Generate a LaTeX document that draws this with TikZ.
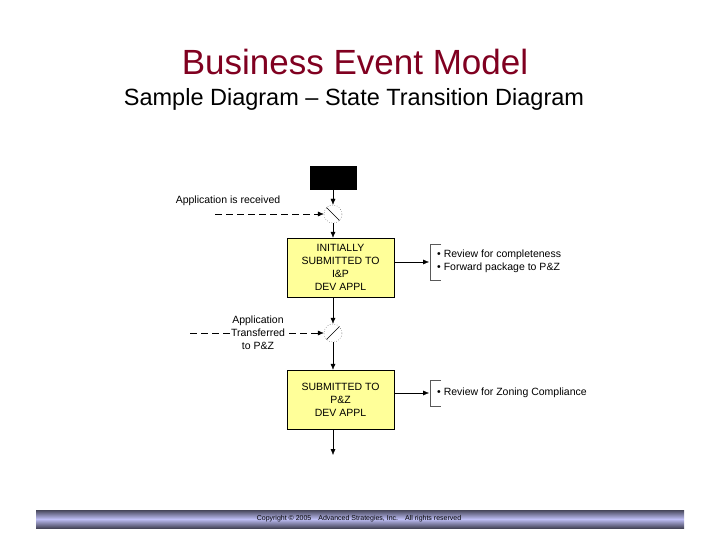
\documentclass[tikz,border=0pt]{standalone}
\usepackage{fontspec}
\setmainfont{Liberation Sans}
\usetikzlibrary{arrows.meta}
\definecolor{titlered}{RGB}{128,0,32}
\definecolor{stateyellow}{RGB}{255,255,153}
\definecolor{barblue}{RGB}{190,190,245}
\definecolor{bardark}{RGB}{70,70,90}
\tikzset{
  state/.style={draw, fill=stateyellow, minimum width=107pt, minimum height=59pt,
    align=center, font=\fontsize{10.5}{13}\selectfont, inner sep=0pt},
  event/.style={draw, dotted, circle, minimum size=18pt, inner sep=0pt},
  flow/.style={-{Latex[length=6pt,width=5pt]}},
  trig/.style={dashed, dash pattern=on 7pt off 4pt, -{Latex[length=6pt,width=5pt]}},
  lbl/.style={font=\fontsize{10.5}{13}\selectfont, align=center, inner sep=0pt},
}
\begin{document}
\begin{tikzpicture}[x=1pt,y=-1pt]
  \useasboundingbox (0,0) rectangle (720,540);
  \node[text=titlered, font=\fontsize{35}{38}\selectfont] (title) at (355,62) {Business Event Model};
  \node[font=\fontsize{23.5}{26}\selectfont] (sub) at (354,99) {Sample Diagram -- State Transition Diagram};

  \node[fill=black, minimum width=47pt, minimum height=24pt, inner sep=0pt] (start) at (333,178) {};
  \node[event] (ev1) at (333,214) {};
  \draw (ev1.north west) -- (ev1.south east);
  \node[state] (s1) at (340.5,267.5) {INITIALLY\\SUBMITTED TO\\I\&P\\DEV APPL};
  \node[event] (ev2) at (333,333) {};
  \draw (ev2.north east) -- (ev2.south west);
  \node[state] (s2) at (340.5,399.5) {SUBMITTED TO\\P\&Z\\DEV APPL};
  \coordinate (end) at (333,455);

  \draw[flow] (start.south -| ev1) -- (ev1.north);
  \draw[flow] (ev1.south) -- (ev1.south |- s1.north);
  \draw[flow] (ev1.south |- s1.south) -- (ev2.north);
  \draw[flow] (ev2.south) -- (ev2.south |- s2.north);
  \draw[flow] (ev2.south |- s2.south) -- (end);

  % triggers
  \coordinate (t1) at (215,214);
  \coordinate (t2) at (190,333);
  \draw[trig] (t1) -- (ev1.west);
  \draw[trig] (t2) -- (ev2.west);
  \node[lbl] (l1) at (228,201) {Application is received};
  \node[lbl, fill=white, inner xsep=1pt] (l2) at (258,333) {Application\\Transferred\\to P\&Z};

  % actions
  \coordinate (b1) at (429,262);
  \coordinate (b2) at (429,393);
  \draw[flow] (s1.east |- b1) -- (b1);
  \draw[flow] (s2.east |- b2) -- (b2);
  \draw[gray!70!black] (441,244) -- (430,244) -- (430,280) -- (441,280);
  \draw[gray!70!black] (441,380) -- (430,380) -- (430,406) -- (441,406);
  \node[lbl, anchor=west, align=left] (a1) at (437,261.5) {\textbullet\ Review for completeness\\\textbullet\ Forward package to P\&Z};
  \node[lbl, anchor=west] (a2) at (437,393) {\textbullet\ Review for Zoning Compliance};

  % footer bar
  \shade[top color=bardark, bottom color=bardark, middle color=barblue] (36,510) rectangle (684,528);
  \node[font=\fontsize{7}{8}\selectfont] (copy) at (359,518.5) {Copyright \textcopyright\ 2005\quad Advanced Strategies, Inc.\quad All rights reserved};
\end{tikzpicture}
\end{document}
